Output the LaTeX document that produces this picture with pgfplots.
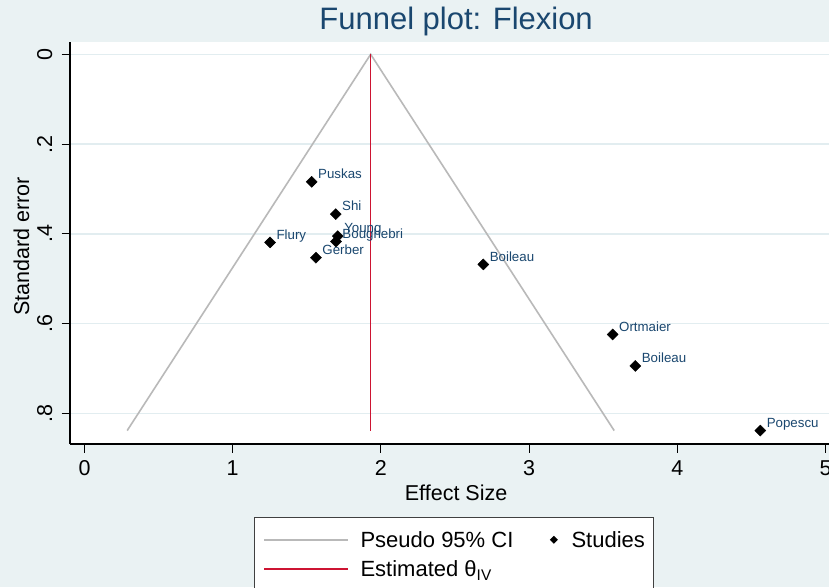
\documentclass[border=0pt]{standalone}
\usepackage{pgfplots}
\usepackage{pgfplotstable}
\pgfplotsset{compat=1.18}
\usepackage{fontspec}
\setmainfont{Liberation Sans}

\definecolor{bgcol}{RGB}{234,242,243}
\definecolor{gridcol}{RGB}{226,237,240}
\definecolor{navy}{RGB}{26,71,111}
\definecolor{thetared}{RGB}{205,20,50}
\definecolor{cigray}{RGB}{185,185,185}

% study estimates: effect size, standard error, first author
\pgfplotstableread{
x      y      name
1.533  0.284  Puskas
1.695  0.356  Shi
1.709  0.405  Young
1.697  0.417  Boughebri
1.252  0.419  Flury
1.562  0.453  Gerber
2.691  0.468  Boileau
3.564  0.624  Ortmaier
3.717  0.694  Boileau
4.560  0.838  Popescu
}\studies

% pseudo 95% confidence limits around the pooled estimate
\pgfplotstableread{
x      y
0.288  0.838
1.931  0.000
3.574  0.838
}\funnel

% pooled (inverse-variance) estimate
\pgfplotstableread{
x      y
1.931  0.000
1.931  0.838
}\pooled

\begin{document}
\begin{tikzpicture}
\useasboundingbox (0pt,0pt) rectangle (829pt,587pt);
\fill[bgcol] (0pt,0pt) rectangle (829pt,587pt);
\clip (0pt,0pt) rectangle (829pt,587pt);
\begin{axis}[
  at={(84.5pt,532.7pt)}, anchor=origin,
  x=148.2pt, y=449pt, y dir=reverse,
  xmin=-0.0975, xmax=5.03, ymin=-0.0274, ymax=0.868,
  axis background/.style={fill=white},
  axis lines*=left,
  axis line style={black, line width=1.3pt},
  tick align=outside, major tick length=8.5pt,
  every tick/.style={black, line width=1pt},
  xtick={0,1,2,3,4,5},
  ytick={0,0.2,0.4,0.6,0.8},
  yticklabels={0,.2,.4,.6,.8},
  /pgf/number format/assume math mode=true,
  ticklabel style={font=\fontsize{21.5}{24}\selectfont, inner sep=0pt},
  xticklabel style={anchor=base},
  xticklabel shift=23.2pt,
  yticklabel style={rotate=90, anchor=base},
  yticklabel shift=9.5pt,
  ymajorgrids, grid style={gridcol, line width=1.5pt},
  clip=false,
  title={Funnel plot: Flexion},
  title style={font=\fontsize{31}{34}\selectfont, text=navy, inner sep=0pt,
    at={(axis description cs:0.508,1.032)}, anchor=base, yshift=-6pt},
  xlabel={Effect Size},
  xlabel style={font=\fontsize{21.5}{24}\selectfont, inner sep=0pt,
    at={(axis description cs:0.508,-0.141)}, anchor=base},
  ylabel={Standard error},
  ylabel style={font=\fontsize{21.5}{24}\selectfont, inner sep=0pt,
    at={(axis description cs:-0.054,0.491)}, anchor=base},
  legend columns=2,
  legend style={at={(axis description cs:0.2424,-0.1816)}, anchor=north west,
    draw=black!75, line width=1pt, fill=white,
    inner xsep=8.7pt, inner ysep=13.7pt, row sep=8.3pt, column sep=0pt,
    font=\fontsize{22}{26}\selectfont,
    nodes={inner sep=0pt, text height=16pt, text depth=5pt}},
  legend cell align=left,
]
\addplot[cigray, line width=1.6pt,
  legend image code/.code={
    \path[draw=none, fill=none] (0pt,-5.7pt) rectangle (96.3pt,10.3pt);
    \draw[cigray, line width=1.6pt] (0pt,2pt) -- (83.3pt,2pt);}]
  table[x=x, y=y] {\funnel};
\addlegendentry{Pseudo 95\% CI}

\addplot[only marks, mark=square*, mark size=3.9pt,
  mark options={rotate=45, fill=black, draw=black},
  nodes near coords, point meta=explicit symbolic,
  every node near coord/.append style={anchor=base west, inner sep=0pt,
    xshift=6.3pt, yshift=3.4pt, font=\fontsize{13.3}{15}\selectfont, text=navy},
  legend image code/.code={
    \path[draw=none, fill=none] (0pt,-5.7pt) rectangle (58.1pt,10.3pt);
    \fill[black, draw=none] (40.4pt,-2pt) -- (44.4pt,2pt) -- (40.4pt,6pt) -- (36.4pt,2pt) -- cycle;}]
  table[x=x, y=y, meta=name] {\studies};
\addlegendentry{Studies}

\addplot[thetared, line width=1.6pt,
  legend image code/.code={
    \path[draw=none, fill=none] (0pt,-5.7pt) rectangle (96.3pt,10.3pt);
    \draw[thetared, line width=1.6pt] (0pt,2pt) -- (83.3pt,2pt);}]
  table[x=x, y=y] {\pooled};
\addlegendentry{Estimated θ\textsubscript{IV}}
\end{axis}
\end{tikzpicture}
\end{document}
